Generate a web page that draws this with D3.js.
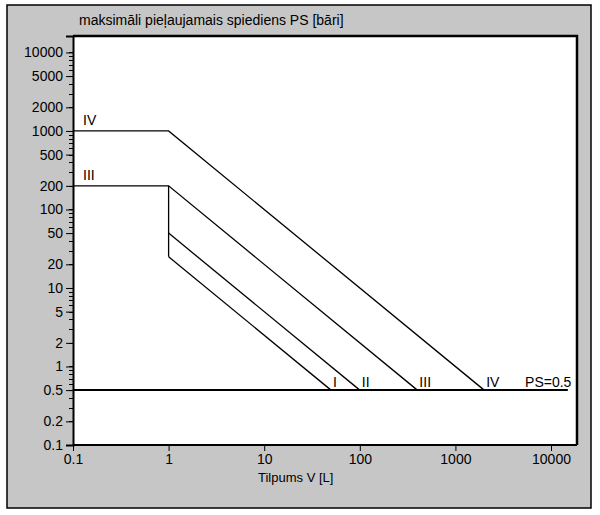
<!DOCTYPE html>
<html>
<head>
<meta charset="utf-8">
<script src="https://cdn.jsdelivr.net/npm/d3@7"></script>
<style>
  html, body { margin: 0; padding: 0; background: #ffffff; }
  svg { display: block; }
  text { font-family: "Liberation Sans", Arial, sans-serif; fill: #000; }
</style>
</head>
<body>
<div id="chart"></div>
<script>
// ---- data ----
const titleText = "maksimāli pieļaujamais spiediens PS [bāri]";
const xLabelText = "Tilpums V [L]";
const xTicks = [0.1, 1, 10, 100, 1000, 10000];
const xTickLabels = ["0.1", "1", "10", "100", "1000", "10000"];
const yTicks = [0.1, 0.2, 0.5, 1, 2, 5, 10, 20, 50, 100, 200, 500, 1000, 2000, 5000, 10000];
const yTickLabels = ["0.1", "0.2", "0.5", "1", "2", "5", "10", "20", "50", "100", "200", "500", "1000", "2000", "5000", "10000"];
const xDomain = [0.1, 18700];
const yDomain = [0.1, 16200];

// category boundary lines: [V, PS]
const lineIV  = [[0.1, 1000], [1, 1000], [2000, 0.5]];
const lineIII = [[0.1, 200], [1, 200], [400, 0.5]];
const lineII  = [[1, 50], [100, 0.5]];
const lineI   = [[1, 25], [50, 0.5]];
const lineStep = [[1, 200], [1, 25]];
const linePS  = [[0.1, 0.5], [15000, 0.5]];

const topLabels = [
  { text: "IV", v: 0.1, ps: 1000 },
  { text: "III", v: 0.1, ps: 200 }
];
const endLabels = [
  { text: "I", v: 50, ps: 0.5 },
  { text: "II", v: 100, ps: 0.5 },
  { text: "III", v: 400, ps: 0.5 },
  { text: "IV", v: 2000, ps: 0.5 },
  { text: "PS=0.5", v: 5100, ps: 0.5 }
];

// ---- layout ----
const W = 600, H = 515;
const plot = { left: 73, top: 36, right: 577, bottom: 445 };

const svg = d3.select("#chart").append("svg").attr("width", W).attr("height", H);

// outer panel
svg.append("rect").attr("x", 7).attr("y", 5).attr("width", 584).attr("height", 503)
  .attr("fill", "#c6c6c6").attr("stroke", "#000").attr("stroke-width", 1.5);

// plot area
svg.append("rect").attr("x", plot.left).attr("y", plot.top)
  .attr("width", plot.right - plot.left).attr("height", plot.bottom - plot.top)
  .attr("fill", "#fff");
svg.append("path")
  .attr("d", `M${plot.left},${plot.top}H${plot.right}V${plot.bottom}`)
  .attr("fill", "none").attr("stroke", "#000").attr("stroke-width", 2.5);

const x = d3.scaleLog().domain(xDomain).range([plot.left, plot.right]);
const y = d3.scaleLog().domain(yDomain).range([plot.bottom, plot.top]);

// minor y ticks
const minorY = [];
for (let e = -1; e <= 3; e++) for (let m = 1; m <= 9; m++) minorY.push(m * Math.pow(10, e));
minorY.push(10000);
svg.append("g").selectAll("line").data(minorY).join("line")
  .attr("x1", plot.left - 4).attr("x2", plot.left)
  .attr("y1", d => Math.round(y(d)) + 0.5).attr("y2", d => Math.round(y(d)) + 0.5)
  .attr("stroke", "#000").attr("stroke-width", 1);

// y axis
const yAxis = d3.axisLeft(y).tickValues(yTicks).tickSize(7).tickPadding(3)
  .tickFormat((d, i) => yTickLabels[i]);
const gy = svg.append("g").attr("transform", `translate(${plot.left},0)`).call(yAxis);
gy.select(".domain").attr("stroke-width", 2);
gy.selectAll(".tick line").attr("stroke-width", 1);
gy.selectAll("text").attr("font-size", 14).attr("font-family", "Liberation Sans, Arial, sans-serif");

// x axis
const xAxis = d3.axisBottom(x).tickValues(xTicks).tickSize(6).tickPadding(3)
  .tickFormat((d, i) => xTickLabels[i]);
const gx = svg.append("g").attr("transform", `translate(0,${plot.bottom})`).call(xAxis);
gx.select(".domain").attr("stroke-width", 2).attr("d", `M${plot.left},0H${plot.right}`);
gx.selectAll(".tick line").attr("stroke-width", 1);
gx.selectAll("text").attr("font-size", 14).attr("font-family", "Liberation Sans, Arial, sans-serif");

// lines
const lineGen = d3.line().x(d => x(d[0])).y(d => y(d[1]));
[lineIV, lineIII, lineII, lineI, lineStep].forEach(pts => {
  svg.append("path").attr("d", lineGen(pts)).attr("fill", "none")
    .attr("stroke", "#000").attr("stroke-width", 1.3);
});
svg.append("path").attr("d", lineGen(linePS)).attr("fill", "none")
  .attr("stroke", "#000").attr("stroke-width", 2);

// labels
svg.append("g").selectAll("text").data(topLabels).join("text")
  .attr("x", d => x(d.v) + 10).attr("y", d => y(d.ps) - 6)
  .attr("font-size", 14).text(d => d.text);
svg.append("g").selectAll("text").data(endLabels).join("text")
  .attr("x", d => x(d.v) + 2).attr("y", d => y(d.ps) - 3)
  .attr("font-size", 14).text(d => d.text);

// title and x label
svg.append("text").attr("x", 79).attr("y", 25).attr("font-size", 14).text(titleText);
svg.append("text").attr("x", 258).attr("y", 482).attr("font-size", 13).text(xLabelText);
</script>
</body>
</html>
